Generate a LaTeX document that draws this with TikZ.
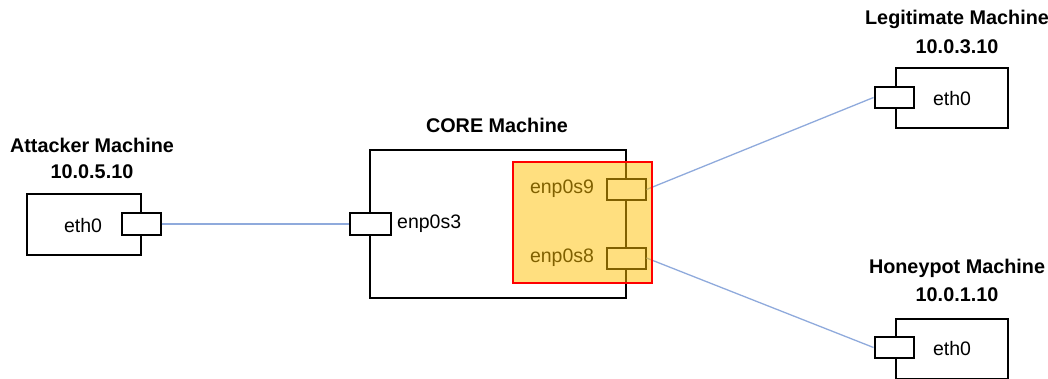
\documentclass[tikz,border=0pt]{standalone}
\usepackage{fontspec}
\setmainfont{Liberation Sans}
\definecolor{linkblue}{HTML}{8FAADC}
\definecolor{hiyellow}{HTML}{FFC000}
\definecolor{hired}{HTML}{FF0000}
\begin{document}
\begin{tikzpicture}[x=1pt,y=-1pt,
  machine/.style={draw=black,line width=2pt,fill=white,rectangle,inner sep=0pt},
  port/.style={draw=black,line width=2pt,fill=white,rectangle,inner sep=0pt,minimum width=39pt,minimum height=21pt},
  lbl/.style={inner sep=0pt,font=\fontsize{19.5}{23}\selectfont},
  ttl/.style={inner sep=0pt,font=\fontsize{19.8}{23}\selectfont\bfseries},
  link/.style={draw=linkblue,line width=1.3pt}]
\useasboundingbox (0,0) rectangle (1048,379);
% Attacker
\node[ttl] (atitle) at (92,145) {Attacker Machine};
\node[ttl] (aip) at (92,172) {10.0.5.10};
\node[machine,minimum width=114pt,minimum height=61pt] (abox) at (84,224.5) {};
\node[lbl] (aeth) at (83,226) {eth0};
\node[port] (aport) at (141,224) {};
% CORE
\node[ttl] (ctitle) at (497,125) {CORE Machine};
\node[machine,minimum width=256pt,minimum height=148pt] (cbox) at (498,224) {};
\node[port,minimum width=41pt,minimum height=22pt] (p3) at (370.5,224) {};
\node[lbl,anchor=west] (t3) at (397,224) {enp0s3};
\node[port] (p9) at (626,189.5) {};
\node[port] (p8) at (626,258) {};
\node[lbl] (t9) at (562,189) {enp0s9};
\node[lbl] (t8) at (562,258) {enp0s8};
% Legitimate
\node[ttl] (ltitle) at (957,19) {Legitimate Machine};
\node[ttl] (lip) at (957,47) {10.0.3.10};
\node[machine,minimum width=112pt,minimum height=60pt] (lbox) at (952,98) {};
\node[lbl] (leth) at (952,99) {eth0};
\node[port] (lport) at (894,97.5) {};
% Honeypot
\node[ttl] (htitle) at (957,268) {Honeypot Machine};
\node[ttl] (hip) at (957,295) {10.0.1.10};
\node[machine,minimum width=112pt,minimum height=60pt] (hbox) at (952,349) {};
\node[lbl] (heth) at (952,349) {eth0};
\node[port] (hport) at (894,347.5) {};
% links
\draw[link] (aport.east) -- (p3.west);
\draw[link] (p9.east) -- (lport.west);
\draw[link] (p8.east) -- (hport.west);
% highlight
\fill[hiyellow,fill opacity=0.5] (513,162) rectangle (652,283);
\draw[draw=hired,line width=1.1pt] (513,162) -- (652,162) -- (652,283) -- (513,283) -- cycle;
\end{tikzpicture}
\end{document}
